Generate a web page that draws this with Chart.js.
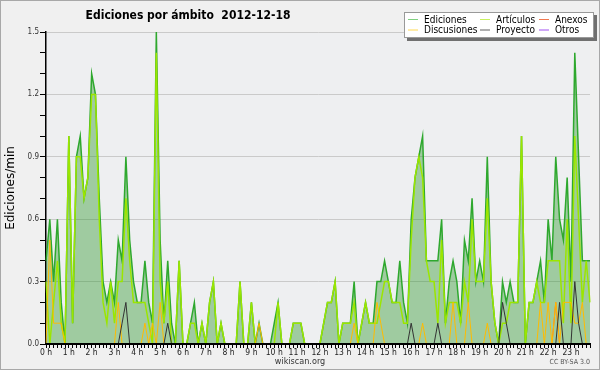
<!DOCTYPE html>
<html>
<head>
<meta charset="utf-8">
<script src="https://cdn.jsdelivr.net/npm/chart.js@4/dist/chart.umd.min.js"></script>
<style>
    html, body { margin: 0; padding: 0; background: #f0f0f0; }
    #wrap { width: 600px; height: 370px; }
</style>
</head>
<body>
<div id="wrap"><canvas id="chart" width="600" height="370"></canvas></div>
<script>
const FONT = "'DejaVu Sans Condensed', 'DejaVu Sans', sans-serif";

const hours = ['0 h', '1 h', '2 h', '3 h', '4 h', '5 h', '6 h', '7 h', '8 h', '9 h', '10 h', '11 h',
    '12 h', '13 h', '14 h', '15 h', '16 h', '17 h', '18 h', '19 h', '20 h', '21 h', '22 h', '23 h'];

// one value per 10 minutes, six per row (one hour)
const ediciones = [
    0.4, 0.6, 0.3, 0.6, 0.2, 0,
    1.0, 0.1, 0.9, 1.0, 0.7, 0.8,
    1.3, 1.2, 0.7, 0.3, 0.2, 0.3,
    0.2, 0.5, 0.4, 0.9, 0.5, 0.3,
    0.2, 0.2, 0.4, 0.2, 0.1, 1.5,
    0.5, 0.1, 0.4, 0.1, 0, 0.4,
    0, 0, 0.1, 0.2, 0, 0.1,
    0, 0.2, 0.3, 0, 0.1, 0,
    0, 0, 0, 0.3, 0, 0,
    0.2, 0, 0.1, 0, 0, 0,
    0.1, 0.2, 0, 0, 0, 0.1,
    0.1, 0.1, 0, 0, 0, 0,
    0, 0.1, 0.2, 0.2, 0.3, 0,
    0.1, 0.1, 0.1, 0.3, 0, 0.1,
    0.2, 0.1, 0.1, 0.3, 0.3, 0.4,
    0.3, 0.2, 0.2, 0.4, 0.2, 0.1,
    0.6, 0.8, 0.9, 1.0, 0.4, 0.4,
    0.4, 0.4, 0.6, 0.1, 0.3, 0.4,
    0.3, 0.1, 0.5, 0.4, 0.7, 0.3,
    0.4, 0.3, 0.9, 0.3, 0.1, 0,
    0.3, 0.2, 0.3, 0.2, 0.2, 1.0,
    0, 0.2, 0.2, 0.3, 0.4, 0.2,
    0.6, 0.4, 0.9, 0.6, 0.5, 0.8,
    0.3, 1.4, 0.9, 0.4, 0.4, 0.4,
];

const articulos = [
    0.3, 0, 0.2, 0.4, 0.1, 0,
    1.0, 0.1, 0.9, 0.9, 0.7, 0.8,
    1.2, 1.2, 0.6, 0.2, 0.1, 0.3,
    0.1, 0.3, 0.3, 0.7, 0.4, 0.2,
    0.2, 0.2, 0.2, 0.1, 0, 1.4,
    0.3, 0.1, 0.3, 0, 0, 0.4,
    0, 0, 0.1, 0.1, 0, 0.1,
    0, 0.2, 0.3, 0, 0.1, 0,
    0, 0, 0, 0.3, 0, 0,
    0.2, 0, 0, 0, 0, 0,
    0, 0.2, 0, 0, 0, 0.1,
    0.1, 0.1, 0, 0, 0, 0,
    0, 0.1, 0.2, 0.2, 0.3, 0,
    0.1, 0.1, 0.1, 0.2, 0, 0.1,
    0.2, 0.1, 0.1, 0.1, 0.2, 0.3,
    0.3, 0.2, 0.2, 0.2, 0.1, 0.1,
    0.5, 0.8, 0.9, 0.8, 0.4, 0.3,
    0.3, 0.1, 0.5, 0.1, 0.2, 0.2,
    0.2, 0.1, 0.3, 0.2, 0.6, 0.3,
    0.3, 0.3, 0.7, 0.3, 0.1, 0,
    0.1, 0.1, 0.2, 0.2, 0.2, 1.0,
    0, 0.2, 0.2, 0.3, 0.2, 0.2,
    0.4, 0.4, 0.4, 0.4, 0.1, 0.6,
    0.1, 1.0, 0.6, 0.2, 0.4, 0.2,
];

const anexos = [
    0, 0, 0, 0, 0, 0,  0, 0, 0, 0, 0, 0,  0, 0, 0, 0, 0, 0,  0, 0, 0, 0, 0, 0,
    0, 0, 0, 0, 0, 0,  0, 0, 0, 0, 0, 0,  0, 0, 0, 0, 0, 0,  0, 0, 0, 0, 0, 0,
    0, 0, 0, 0, 0, 0,  0, 0, 0, 0, 0, 0,  0, 0, 0, 0, 0, 0,  0, 0, 0, 0, 0, 0,
    0, 0, 0, 0, 0, 0,  0, 0, 0, 0, 0, 0,  0, 0, 0, 0, 0, 0,  0, 0, 0, 0, 0, 0,
    0, 0, 0, 0, 0, 0,  0, 0, 0, 0, 0, 0,  0, 0, 0, 0, 0, 0,  0, 0, 0, 0, 0, 0,
    0, 0, 0, 0, 0, 0,  0, 0, 0, 0, 0, 0,  0, 0, 0.2, 0, 0, 0,  0, 0, 0, 0, 0, 0,
];

const discusiones = [
    0, 0.5, 0.1, 0.1, 0.1, 0,  0, 0, 0, 0, 0, 0,  0, 0, 0, 0, 0, 0,  0, 0.2, 0, 0, 0, 0,
    0, 0, 0.1, 0, 0.1, 0,  0.2, 0, 0, 0, 0, 0,  0, 0, 0, 0, 0, 0,  0, 0, 0, 0, 0, 0,
    0, 0, 0, 0, 0, 0,  0, 0, 0.1, 0, 0, 0,  0, 0, 0, 0, 0, 0,  0, 0, 0, 0, 0, 0,
    0, 0, 0, 0, 0, 0,  0, 0, 0, 0.1, 0, 0,  0, 0, 0, 0.2, 0.1, 0,  0, 0, 0, 0, 0, 0,
    0, 0, 0, 0.1, 0, 0,  0, 0, 0, 0, 0, 0.2,  0, 0, 0, 0.2, 0, 0,  0, 0, 0.1, 0, 0, 0,
    0, 0, 0, 0, 0, 0,  0, 0, 0, 0, 0.2, 0,  0.2, 0, 0.2, 0, 0.2, 0.2,  0.2, 0.1, 0.1, 0.2, 0, 0,
];

const proyecto = [
    0, 0, 0, 0, 0, 0,  0, 0, 0, 0, 0, 0,  0, 0, 0, 0, 0, 0,  0, 0, 0.1, 0.2, 0, 0,
    0, 0, 0, 0, 0, 0,  0, 0, 0.1, 0, 0, 0,  0, 0, 0, 0, 0, 0,  0, 0, 0, 0, 0, 0,
    0, 0, 0, 0, 0, 0,  0, 0, 0, 0, 0, 0,  0, 0, 0, 0, 0, 0,  0, 0, 0, 0, 0, 0,
    0, 0, 0, 0, 0, 0,  0, 0, 0, 0, 0, 0,  0, 0, 0, 0, 0, 0,  0, 0, 0, 0, 0, 0,
    0.1, 0, 0, 0, 0, 0,  0, 0.1, 0, 0, 0, 0,  0, 0, 0, 0, 0, 0,  0, 0, 0, 0, 0, 0,
    0.2, 0.1, 0, 0, 0, 0,  0, 0, 0, 0, 0, 0,  0, 0, 0, 0.2, 0, 0,  0, 0.3, 0.1, 0, 0, 0,
];

const otros = [
    0, 0, 0, 0, 0, 0,  0, 0, 0, 0, 0, 0,  0, 0, 0, 0, 0, 0,  0, 0, 0, 0, 0, 0,
    0, 0, 0, 0, 0, 0,  0, 0, 0, 0, 0, 0,  0, 0, 0, 0, 0, 0,  0, 0, 0, 0, 0, 0,
    0, 0, 0, 0, 0, 0,  0, 0, 0, 0, 0, 0,  0, 0, 0, 0, 0, 0,  0, 0, 0, 0, 0, 0,
    0, 0, 0, 0, 0, 0,  0, 0, 0, 0, 0, 0,  0, 0, 0, 0, 0, 0,  0, 0, 0, 0, 0, 0,
    0, 0, 0, 0, 0, 0,  0, 0, 0, 0, 0, 0,  0, 0, 0, 0, 0, 0,  0, 0, 0, 0, 0, 0,
    0, 0, 0, 0, 0, 0,  0, 0, 0, 0, 0, 0,  0, 0, 0, 0, 0, 0,  0, 0, 0, 0, 0, 0,
];

const legendItems = [
    ['Ediciones', '#80d080'], ['Artículos', '#c8f060'], ['Anexos', '#f07850'],
    ['Discusiones', '#ffd850'], ['Proyecto', '#606060'], ['Otros', '#a050f0'],
];

// one tick every 10 minutes, hour label on the first of each six
const labels = [];
hours.forEach((h) => labels.push(h, '', '', '', '', ''));

const isMajor = (v) => Math.round(v * 10) % 3 === 0;

const decor = {
    id: 'decor',
    beforeDraw(chart) {
        const { ctx, chartArea: a } = chart;
        ctx.save();
        ctx.fillStyle = '#f0f0f0';
        ctx.fillRect(0, 0, chart.width, chart.height);
        ctx.fillStyle = '#eeeff1';
        ctx.fillRect(a.left, a.top, a.right - a.left, a.bottom - a.top);
        ctx.restore();
    },
    afterDraw(chart) {
        const { ctx } = chart;
        ctx.save();
        // frame
        ctx.strokeStyle = '#a8a8a8';
        ctx.lineWidth = 1;
        ctx.strokeRect(0.5, 0.5, chart.width - 1, chart.height - 1);

        // title
        ctx.fillStyle = '#000';
        ctx.font = `bold 12px ${FONT}`;
        ctx.textAlign = 'center';
        ctx.textBaseline = 'alphabetic';
        ctx.fillText('Ediciones por ámbito  2012-12-18', 188, 18.5);

        // legend box
        ctx.fillStyle = '#707070';
        ctx.fillRect(407, 38, 190, 3);
        ctx.fillRect(594, 15, 3, 26);
        ctx.fillStyle = '#ffffff';
        ctx.fillRect(404, 12, 190, 26);
        ctx.strokeStyle = '#999';
        ctx.strokeRect(404.5, 12.5, 189, 25);

        ctx.font = `10px ${FONT}`;
        ctx.textAlign = 'left';
        const cols = [408, 480, 539];
        const rows = [19, 29.5];
        legendItems.forEach(([name, color], i) => {
            const x = cols[i % 3];
            const y = rows[Math.floor(i / 3)];
            ctx.strokeStyle = color;
            ctx.lineWidth = 1;
            ctx.beginPath();
            ctx.moveTo(x, y + 0.5);
            ctx.lineTo(x + 10, y + 0.5);
            ctx.stroke();
            ctx.fillStyle = '#000';
            ctx.fillText(name, x + 16, y + 3.5);
        });

        // footer
        ctx.fillStyle = '#333';
        ctx.font = `9px ${FONT}`;
        ctx.textAlign = 'center';
        ctx.fillText('wikiscan.org', 300, 364);
        ctx.fillStyle = '#555';
        ctx.font = `7px ${FONT}`;
        ctx.textAlign = 'right';
        ctx.fillText('CC BY-SA 3.0', 590, 364);
        ctx.restore();
    },
};

const line = (label, data, color, width, order) => ({
    label, data, borderColor: color, borderWidth: width,
    pointRadius: 0, tension: 0, fill: false, order,
});

new Chart(document.getElementById('chart'), {
    type: 'line',
    data: {
        labels,
        datasets: [
            {
                ...line('Ediciones', ediciones, '#2ea82e', 1.5, 6),
                fill: 'origin',
                backgroundColor: 'rgba(40,150,40,0.4)',
            },
            line('Artículos', articulos, '#9be600', 1.5, 5),
            line('Anexos', anexos, '#ff6a1a', 1, 4),
            line('Discusiones', discusiones, '#ffbb00', 1, 3),
            line('Proyecto', proyecto, '#333333', 1, 2),
            line('Otros', otros, '#9933ff', 1, 1),
        ],
    },
    options: {
        responsive: false,
        animation: false,
        devicePixelRatio: 1,
        layout: { padding: { top: 32, right: 10, bottom: 0, left: 0 } },
        plugins: { legend: { display: false }, tooltip: { enabled: false }, title: { display: false } },
        scales: {
            x: {
                type: 'category',
                offset: false,
                grid: { drawOnChartArea: false, drawTicks: true, tickLength: 4, tickColor: '#000' },
                border: { color: '#000', width: 2, z: 1 },
                ticks: {
                    autoSkip: false, maxRotation: 0, minRotation: 0, padding: 0,
                    color: '#222', font: { family: FONT, size: 8.5 },
                },
                afterFit(axis) {
                    axis.height = 26;
                },
            },
            y: {
                min: 0,
                max: 1.5,
                grid: {
                    color: (ctx) => (ctx.tick && isMajor(ctx.tick.value) ? '#cacaca' : 'rgba(0,0,0,0)'),
                    tickColor: '#000',
                    tickLength: 6,
                },
                border: { color: '#000', width: 1.5 },
                ticks: {
                    stepSize: 0.1, autoSkip: false, padding: 1,
                    color: '#333', font: { family: FONT, size: 8 },
                    callback: (v) => (isMajor(v) ? Number(v).toFixed(1) : ''),
                },
                title: {
                    display: true, text: 'Ediciones/min', color: '#000',
                    font: { family: "'DejaVu Sans', sans-serif", size: 12 },
                    padding: { top: 4, bottom: 0 },
                },
                afterFit(axis) {
                    axis.width = 46;
                },
            },
        },
    },
    plugins: [decor],
});
</script>
</body>
</html>
